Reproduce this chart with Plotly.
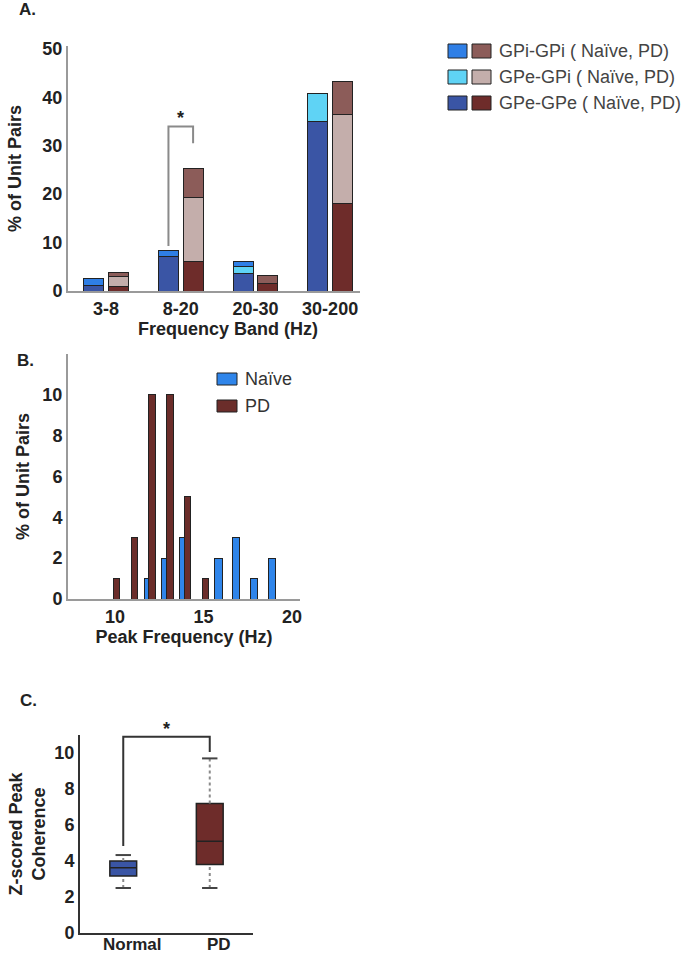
import numpy as np
import plotly.graph_objects as go

# ---- Panel A: % of unit pairs by frequency band (stacked) ----
bands = ["3-8", "8-20", "20-30", "30-200"]
naive_gpe_gpe = [1.2, 7.2, 3.6, 35.0]
naive_gpe_gpi = [0.0, 0.0, 1.4, 5.8]
naive_gpi_gpi = [1.3, 1.1, 1.0, 0.0]
pd_gpe_gpe = [0.9, 6.1, 1.6, 18.0]
pd_gpe_gpi = [2.1, 13.2, 0.0, 18.4]
pd_gpi_gpi = [0.9, 6.0, 1.6, 6.9]

# ---- Panel B: peak frequency histogram ----
peak_freq = [10, 11, 12, 13, 14, 15, 16, 17, 18, 19]
naive_peak = [0, 0, 1, 2, 3, 0, 2, 3, 1, 2]
pd_peak = [1, 3, 10, 10, 5, 1, 0, 0, 0, 0]

# ---- Panel C: z-scored peak coherence box stats ----
groups = ["Normal", "PD"]
box_low = [2.5, 2.5]
box_q1 = [3.17, 3.8]
box_med = [3.63, 5.1]
box_q3 = [4.0, 7.2]
box_high = [4.33, 9.7]

C_NAIVE = ["#3a55a5", "#5fd3f5", "#2f7fe6"]   # GPe-GPe, GPe-GPi, GPi-GPi
C_PD = ["#6e2c2a", "#c4aeab", "#8c5c59"]
OUTLINE = "#222222"
FONT = "Liberation Sans, Arial, sans-serif"

fig = go.Figure()

pos = np.arange(1, len(bands) + 1)
off = 0.165
wA = 0.27
for vals, col in zip([naive_gpe_gpe, naive_gpe_gpi, naive_gpi_gpi], C_NAIVE):
    fig.add_trace(go.Bar(x=pos - off, y=vals, width=wA, marker=dict(color=col, line=dict(color=OUTLINE, width=1)),
                         xaxis="x", yaxis="y", showlegend=False))
for vals, col in zip([pd_gpe_gpe, pd_gpe_gpi, pd_gpi_gpi], C_PD):
    fig.add_trace(go.Bar(x=pos + off, y=vals, width=wA, marker=dict(color=col, line=dict(color=OUTLINE, width=1)),
                         xaxis="x", yaxis="y", showlegend=False))

pf = np.array(peak_freq)
fig.add_trace(go.Bar(x=pf - 0.15, y=naive_peak, width=0.4, marker=dict(color="#2f85ea", line=dict(color=OUTLINE, width=1)),
                     xaxis="x2", yaxis="y2", showlegend=False))
fig.add_trace(go.Bar(x=pf + 0.1, y=pd_peak, width=0.36, marker=dict(color="#6b2d2a", line=dict(color=OUTLINE, width=1)),
                     xaxis="x2", yaxis="y2", showlegend=False))

box_cols = ["#3a55a5", "#6e2c2a"]
for i, g in enumerate(groups):
    xi = i + 1
    fig.add_trace(go.Scatter(x=[xi, xi, None, xi, xi], y=[box_low[i], box_q1[i], None, box_q3[i], box_high[i]],
                             mode="lines", line=dict(color="#8a8a8a", width=2, dash="dot"),
                             xaxis="x3", yaxis="y3", showlegend=False))
    fig.add_trace(go.Box(x=[xi], q1=[box_q1[i]], median=[box_med[i]], q3=[box_q3[i]],
                         lowerfence=[box_q1[i]], upperfence=[box_q3[i]], width=0.31, whiskerwidth=0,
                         fillcolor=box_cols[i], line=dict(color=OUTLINE, width=1.5),
                         xaxis="x3", yaxis="y3", showlegend=False))
    fig.add_trace(go.Scatter(x=[xi, xi], y=[box_low[i], box_high[i]], mode="markers",
                             marker=dict(symbol="line-ew", size=11, line=dict(color="#444444", width=2)),
                             xaxis="x3", yaxis="y3", showlegend=False))

tickf = dict(family=FONT, size=18, color="#222222", weight="bold")
titlef = dict(family=FONT, size=18, color="#222222", weight="bold")

W, H = 689, 953
def px_x(p):
    return p / W
def px_y(p):
    return 1 - p / H

ax_common = dict(showgrid=False, zeroline=False, showline=True, linewidth=2, ticks="", automargin=False,
                 tickfont=tickf)

fig.update_layout(
    width=W, height=H, margin=dict(l=0, r=0, t=0, b=0, autoexpand=False),
    paper_bgcolor="white", plot_bgcolor="white", barmode="stack",
    font=dict(family=FONT),
    xaxis=dict(ax_common, domain=[px_x(68), px_x(360)], range=[0.49, 4.4], tickvals=pos, ticktext=bands,
               linecolor="#9a9a9a", ticklabelstandoff=0, anchor="y"),
    yaxis=dict(ax_common, domain=[px_y(291), px_y(46)], range=[0, 50.6], tickvals=[0, 10, 20, 30, 40, 50],
               linecolor="#9a9a9a", title=dict(text="% of Unit Pairs", font=titlef, standoff=16),
               anchor="x"),
    xaxis2=dict(ax_common, domain=[px_x(68), px_x(300)], range=[7.35, 20.45], tickvals=[10, 15, 20],
                linecolor="#9a9a9a", title=dict(text="Peak Frequency (Hz)", font=titlef, standoff=2),
                anchor="y2"),
    yaxis2=dict(ax_common, domain=[px_y(599), px_y(354)], range=[0, 12], tickvals=[0, 2, 4, 6, 8, 10],
                linecolor="#9a9a9a", title=dict(text="% of Unit Pairs", font=titlef, standoff=8),
                anchor="x2"),
    xaxis3=dict(ax_common, domain=[px_x(80), px_x(253)], range=[0.5, 2.5], tickvals=[1, 2], ticktext=groups,
                linecolor="#333333", tickfont=dict(tickf, size=17), ticklabelshift=9, ticklabelstandoff=-5,
                anchor="y3"),
    yaxis3=dict(ax_common, domain=[px_y(933), px_y(735)], range=[0, 11], tickvals=[0, 2, 4, 6, 8, 10],
                linecolor="#333333", title=dict(text="Z-scored Peak<br>Coherence", font=titlef, standoff=4),
                anchor="x3"),
)

# panel A x title sits right of the plot centre in the original
fig.add_annotation(x=px_x(228), y=px_y(329), xref="paper", yref="paper", text="Frequency Band (Hz)",
                   showarrow=False, xanchor="center", yanchor="middle", font=titlef)

# significance bracket, panel A (8-20 naive vs PD)
naive_tot = np.sum([naive_gpe_gpe, naive_gpe_gpi, naive_gpi_gpi], axis=0)
pd_tot = np.sum([pd_gpe_gpe, pd_gpe_gpi, pd_gpi_gpi], axis=0)
xa, xb = pos[1] - off, pos[1] + off
fig.add_shape(type="path", xref="x", yref="y",
              path=f"M {xa},{naive_tot[1] + 1} L {xa},34 L {xb},34 L {xb},{pd_tot[1] + 5.2}",
              line=dict(color="#8a8a8a", width=2))
fig.add_annotation(x=pos[1], y=34, xref="x", yref="y", text="*", showarrow=False, yanchor="bottom",
                   font=dict(family=FONT, size=18, color="#222222", weight="bold"), yshift=-4)

# significance bracket, panel C
fig.add_shape(type="path", xref="x3", yref="y3",
              path=f"M 1,{box_high[0] + 0.5} L 1,10.9 L 2,10.9 L 2,{box_high[1] + 0.35}",
              line=dict(color="#333333", width=2))
fig.add_annotation(x=1.5, y=10.9, xref="x3", yref="y3", text="*", showarrow=False, yanchor="bottom",
                   font=dict(family=FONT, size=18, color="#222222", weight="bold"), yshift=-4)

# panel letters
for letter, (lx, ly) in zip(["A.", "B.", "C."], [(17, 9), (15, 360), (18, 700)]):
    fig.add_annotation(x=px_x(lx), y=px_y(ly), xref="paper", yref="paper", text=letter, showarrow=False,
                       xanchor="left", yanchor="middle", font=dict(family=FONT, size=17, color="#222222", weight="bold"))

# legend panel A (paired swatches)
leg_rows = ["GPi-GPi ( Naïve, PD)", "GPe-GPi ( Naïve, PD)", "GPe-GPe ( Naïve, PD)"]
leg_naive = [C_NAIVE[2], C_NAIVE[1], C_NAIVE[0]]
leg_pd = [C_PD[2], C_PD[1], C_PD[0]]
for k, (lab, cn, cp) in enumerate(zip(leg_rows, leg_naive, leg_pd)):
    yc = 51 + k * 26
    for x0, col in [(448, cn), (472, cp)]:
        fig.add_shape(type="rect", xref="paper", yref="paper", x0=px_x(x0), x1=px_x(x0 + 19),
                      y0=px_y(yc + 7), y1=px_y(yc - 7), fillcolor=col, line=dict(color=OUTLINE, width=1))
    fig.add_annotation(x=px_x(497), y=px_y(yc), xref="paper", yref="paper", text=lab, showarrow=False,
                       xanchor="left", yanchor="middle", font=dict(family=FONT, size=18, color="#444444"))

# legend panel B
for k, (lab, col) in enumerate(zip(["Naïve", "PD"], ["#2f85ea", "#6b2d2a"])):
    yc = 379 + k * 27
    fig.add_shape(type="rect", xref="paper", yref="paper", x0=px_x(217), x1=px_x(237),
                  y0=px_y(yc + 6), y1=px_y(yc - 6), fillcolor=col, line=dict(color=OUTLINE, width=1))
    fig.add_annotation(x=px_x(243), y=px_y(yc), xref="paper", yref="paper", text=lab, showarrow=False,
                       xanchor="left", yanchor="middle", font=dict(family=FONT, size=18, color="#333333"))

# drop the default page margin so the figure fills the window exactly
fig.write_html("out.html", config={"displayModeBar": False},
               post_script="document.body.style.margin='0';")
